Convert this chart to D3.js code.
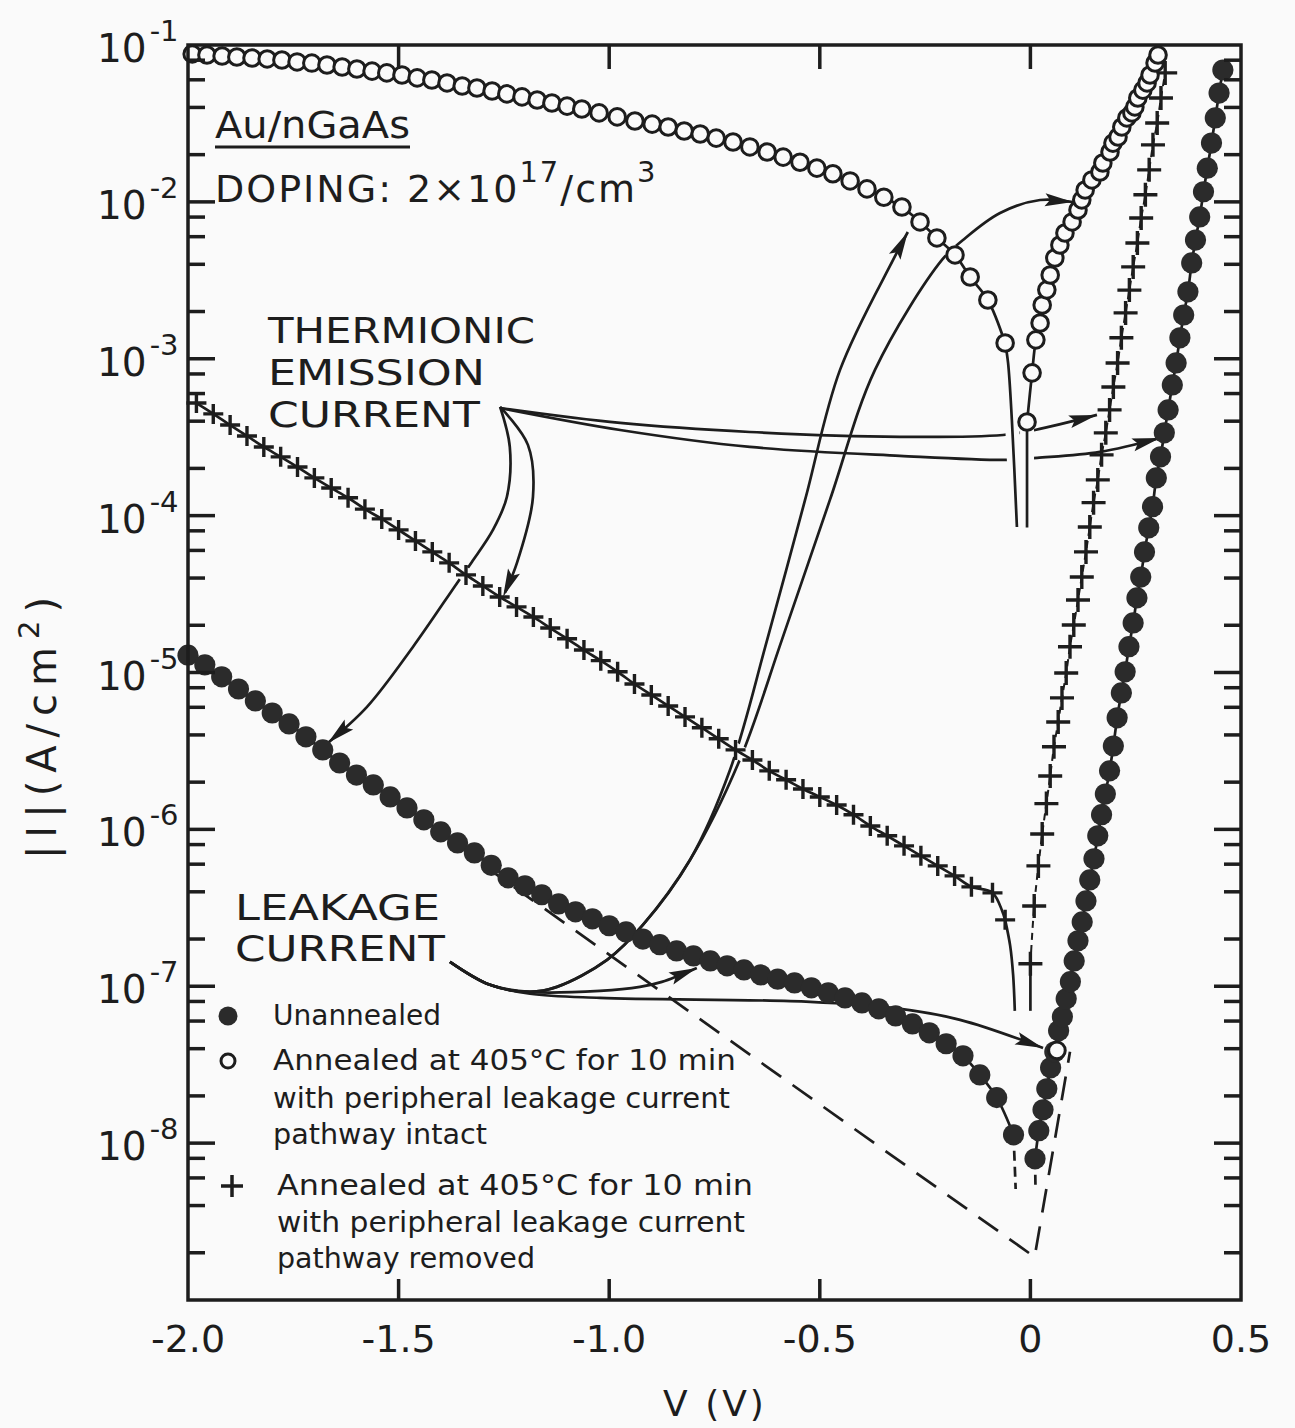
<!DOCTYPE html>
<html>
<head>
<meta charset="utf-8">
<script src="https://cdn.jsdelivr.net/npm/d3@7"></script>
<style>
  body { margin: 0; background: #fafafa; }
  svg text { font-family: "DejaVu Sans", sans-serif; fill: #1d1d1d; }
</style>
</head>
<body>
<svg id="chart" width="1295" height="1428"></svg>
<script>
// ---- data: [V (volts), |I| (A/cm^2)] ----
// unannealed (filled circles)
const filledReverse = [
  [-2.00,1.29e-5],[-1.96,1.12e-5],[-1.92,9.38e-6],[-1.88,7.85e-6],[-1.84,6.59e-6],[-1.80,5.52e-6],
  [-1.76,4.70e-6],[-1.72,3.89e-6],[-1.68,3.21e-6],[-1.64,2.65e-6],[-1.60,2.22e-6],[-1.56,1.92e-6],
  [-1.52,1.61e-6],[-1.48,1.37e-6],[-1.44,1.15e-6],[-1.40,9.64e-7],[-1.36,8.20e-7],[-1.32,7.08e-7],
  [-1.28,5.90e-7],[-1.24,4.91e-7],[-1.20,4.37e-7],[-1.16,3.83e-7],[-1.12,3.35e-7],[-1.08,2.98e-7],
  [-1.04,2.69e-7],[-1.00,2.43e-7],[-0.96,2.22e-7],[-0.92,2.00e-7],[-0.88,1.84e-7],[-0.84,1.68e-7],
  [-0.80,1.56e-7],[-0.76,1.45e-7],[-0.72,1.35e-7],[-0.68,1.27e-7],[-0.64,1.18e-7],[-0.60,1.11e-7],
  [-0.56,1.05e-7],[-0.52,9.77e-8],[-0.48,9.08e-8],[-0.44,8.43e-8],[-0.40,7.83e-8],[-0.36,7.18e-8],
  [-0.32,6.47e-8],[-0.28,5.75e-8],[-0.24,5.05e-8],[-0.20,4.30e-8],[-0.16,3.60e-8],[-0.12,2.72e-8],
  [-0.08,1.95e-8],[-0.04,1.13e-8]
];
const filledForward = [
  [0.011,7.94e-9],[0.020,1.20e-8],[0.030,1.63e-8],[0.039,2.22e-8],[0.048,3.02e-8],[0.058,3.82e-8],
  [0.067,5.20e-8],[0.076,6.38e-8],[0.085,8.32e-8],[0.095,1.07e-7],[0.104,1.45e-7],[0.113,1.95e-7],
  [0.123,2.57e-7],[0.132,3.50e-7],[0.141,4.76e-7],[0.151,6.49e-7],[0.160,9.10e-7],[0.169,1.24e-6],
  [0.178,1.68e-6],[0.188,2.36e-6],[0.197,3.40e-6],[0.206,5.14e-6],[0.216,7.41e-6],[0.225,1.01e-5],
  [0.234,1.46e-5],[0.244,2.07e-5],[0.253,2.99e-5],[0.262,4.06e-5],[0.271,5.87e-5],[0.281,8.36e-5],
  [0.290,1.14e-4],[0.299,1.74e-4],[0.309,2.37e-4],[0.318,3.37e-4],[0.327,4.72e-4],[0.337,6.81e-4],
  [0.346,9.40e-4],[0.355,1.36e-3],[0.364,1.90e-3],[0.374,2.67e-3],[0.383,4.08e-3],[0.392,5.71e-3],
  [0.402,8.02e-3],[0.411,1.16e-2],[0.420,1.64e-2],[0.430,2.37e-2],[0.439,3.43e-2],[0.448,4.94e-2],
  [0.457,6.93e-2]
];
const filledReverseTail = [[-0.04,1.13e-8],[-0.035,5.1e-9]];
const filledForwardTail = [[0.011,7.94e-9],[0.012,5.4e-9]];

// annealed, leakage pathway intact (open circles)
const openReverse = [
  [-1.990,8.77e-2],[-1.955,8.63e-2],[-1.919,8.51e-2],[-1.884,8.39e-2],[-1.848,8.26e-2],[-1.812,8.15e-2],
  [-1.777,8.02e-2],[-1.741,7.80e-2],[-1.706,7.67e-2],[-1.670,7.46e-2],[-1.634,7.24e-2],[-1.599,7.03e-2],
  [-1.563,6.82e-2],[-1.528,6.64e-2],[-1.492,6.44e-2],[-1.456,6.17e-2],[-1.421,5.98e-2],[-1.385,5.73e-2],
  [-1.349,5.48e-2],[-1.314,5.32e-2],[-1.278,5.09e-2],[-1.243,4.88e-2],[-1.207,4.67e-2],[-1.171,4.46e-2],
  [-1.136,4.27e-2],[-1.100,4.08e-2],[-1.065,3.91e-2],[-1.024,3.69e-2],[-0.981,3.48e-2],[-0.939,3.28e-2],
  [-0.898,3.13e-2],[-0.860,3.00e-2],[-0.822,2.83e-2],[-0.784,2.71e-2],[-0.746,2.55e-2],[-0.706,2.41e-2],
  [-0.666,2.24e-2],[-0.625,2.08e-2],[-0.587,1.93e-2],[-0.547,1.79e-2],[-0.507,1.64e-2],[-0.469,1.51e-2],
  [-0.428,1.36e-2],[-0.388,1.21e-2],[-0.348,1.07e-2],[-0.305,9.27e-3],[-0.262,7.45e-3],[-0.222,5.89e-3],
  [-0.179,4.59e-3],[-0.143,3.32e-3],[-0.101,2.37e-3],[-0.060,1.26e-3]
];
const openForward = [
  [-0.008,3.95e-4],[0.004,8.13e-4],[0.013,1.32e-3],[0.023,1.69e-3],[0.028,2.20e-3],[0.039,2.75e-3],
  [0.047,3.42e-3],[0.058,4.39e-3],[0.070,5.31e-3],[0.082,6.33e-3],[0.099,7.45e-3],[0.113,8.87e-3],
  [0.122,1.03e-2],[0.130,1.19e-2],[0.146,1.38e-2],[0.165,1.55e-2],[0.172,1.77e-2],[0.189,2.08e-2],
  [0.196,2.37e-2],[0.208,2.59e-2],[0.217,3.00e-2],[0.229,3.43e-2],[0.241,3.69e-2],[0.248,4.03e-2],
  [0.255,4.59e-2],[0.267,5.16e-2],[0.277,5.73e-2],[0.284,6.44e-2],[0.296,7.68e-2],[0.303,8.63e-2]
];
const openForwardLow = [[0.063,3.9e-8]];
const openReverseTail = [[-0.060,1.26e-3],[-0.053,9.40e-4],[-0.044,4.07e-4],[-0.032,8.47e-5]];
const openForwardTail = [[-0.008,3.95e-4],[-0.008,8.4e-5]];

// annealed, leakage pathway removed (plus signs)
const plusReverse = [
  [-1.98,5.22e-4],[-1.94,4.45e-4],[-1.90,3.78e-4],[-1.86,3.22e-4],[-1.82,2.74e-4],[-1.78,2.37e-4],
  [-1.74,2.04e-4],[-1.70,1.74e-4],[-1.66,1.50e-4],[-1.62,1.30e-4],[-1.58,1.10e-4],[-1.54,9.53e-5],
  [-1.50,8.11e-5],[-1.46,6.90e-5],[-1.42,5.87e-5],[-1.38,5.00e-5],[-1.34,4.19e-5],[-1.30,3.56e-5],
  [-1.26,3.03e-5],[-1.22,2.62e-5],[-1.18,2.26e-5],[-1.14,1.92e-5],[-1.10,1.64e-5],[-1.06,1.39e-5],
  [-1.02,1.19e-5],[-0.98,1.01e-5],[-0.94,8.45e-6],[-0.90,7.19e-6],[-0.86,6.12e-6],[-0.82,5.21e-6],
  [-0.78,4.44e-6],[-0.74,3.78e-6],[-0.70,3.21e-6],[-0.66,2.77e-6],[-0.62,2.36e-6],[-0.58,2.07e-6],
  [-0.54,1.81e-6],[-0.50,1.61e-6],[-0.46,1.43e-6],[-0.42,1.24e-6],[-0.38,1.05e-6],[-0.34,9.10e-7],
  [-0.30,7.85e-7],[-0.26,6.78e-7],[-0.22,5.85e-7],[-0.18,5.05e-7],[-0.14,4.30e-7],[-0.09,3.94e-7],
  [-0.06,2.65e-7]
];
const plusForward = [
  [0.000,1.39e-7],[0.009,3.25e-7],[0.019,5.85e-7],[0.028,9.35e-7],[0.038,1.46e-6],[0.047,2.19e-6],
  [0.056,3.36e-6],[0.066,4.84e-6],[0.075,6.89e-6],[0.085,9.93e-6],[0.094,1.46e-5],[0.103,2.01e-5],
  [0.113,2.90e-5],[0.122,4.06e-5],[0.132,5.87e-5],[0.141,8.47e-5],[0.150,1.21e-4],[0.160,1.69e-4],
  [0.169,2.44e-4],[0.179,3.37e-4],[0.188,4.72e-4],[0.197,6.61e-4],[0.207,9.40e-4],[0.216,1.36e-3],
  [0.226,1.96e-3],[0.235,2.74e-3],[0.244,3.85e-3],[0.254,5.47e-3],[0.263,7.89e-3],[0.273,1.11e-2],
  [0.282,1.60e-2],[0.291,2.31e-2],[0.301,3.18e-2],[0.310,4.59e-2],[0.320,6.64e-2]
];
const plusReverseTail = [[-0.06,2.65e-7],[-0.048,1.81e-7],[-0.041,1.18e-7],[-0.037,6.97e-8]];
const plusForwardTail = [[0.000,1.39e-7],[0.000,6.97e-8]];

// dashed thermionic-emission extrapolation of the unannealed diode
const teExtrapolation = [[-1.30,5.94e-7],[0.010,1.88e-9],[0.094,3.82e-8]];

// annotation pointers, [V, log10|I|]
const arrowsTE = [
  [[-1.259,-3.314],[-0.974,-3.409],[-0.666,-3.467],[-0.310,-3.498],[-0.065,-3.486],[0.011,-3.454],[0.158,-3.358]],
  [[-1.259,-3.314],[-0.974,-3.454],[-0.666,-3.562],[-0.310,-3.619],[-0.056,-3.645],[0.016,-3.632],[0.165,-3.594],[0.308,-3.505]],
  [[-1.259,-3.307],[-1.193,-3.549],[-1.181,-3.881],[-1.219,-4.301],[-1.252,-4.518]],
  [[-1.259,-3.307],[-1.236,-3.562],[-1.243,-3.881],[-1.276,-4.091],[-1.326,-4.295],[-1.361,-4.429],[-1.466,-4.837],[-1.575,-5.219],[-1.668,-5.449]]
];
const arrowsLeak = [
  [[-1.378,-6.844],[-1.283,-6.991],[-1.188,-7.036],[-1.124,-7.004],[-1.005,-6.832],[-0.920,-6.609],[-0.808,-6.194],[-0.713,-5.620],[-0.625,-4.792],[-0.535,-3.900],[-0.452,-3.071],[-0.326,-2.370],[-0.291,-2.192]],
  [[-1.378,-6.844],[-1.283,-6.991],[-1.188,-7.036],[-1.124,-7.004],[-1.005,-6.832],[-0.920,-6.609],[-0.808,-6.194],[-0.690,-5.557],[-0.590,-4.792],[-0.476,-3.900],[-0.369,-3.071],[-0.210,-2.370],[-0.160,-2.243],[-0.072,-2.071],[0.023,-1.988],[0.101,-2.001]],
  [[-1.378,-6.844],[-1.283,-6.991],[-1.188,-7.036],[-1.022,-7.029],[-0.927,-7.004],[-0.875,-6.972],[-0.792,-6.883]],
  [[-1.378,-6.844],[-1.283,-6.991],[-1.188,-7.048],[-1.022,-7.074],[-0.523,-7.099],[-0.326,-7.138],[-0.167,-7.214],[0.030,-7.393]]
];

// axes
const xTicks = [-2.0, -1.5, -1.0, -0.5, 0, 0.5];
const xTickLabels = ["-2.0", "-1.5", "-1.0", "-0.5", "0", "0.5"];
const yDecades = [-1, -2, -3, -4, -5, -6, -7, -8];
const minorMantissas = [2, 4, 6, 8];

const legendRows = [
  { mark: "filled", lines: ["Unannealed"] },
  { mark: "open", lines: ["Annealed at 405°C for 10 min", "with peripheral leakage current", "pathway intact"] },
  { mark: "plus", lines: ["Annealed at 405°C for 10 min", "with peripheral leakage current", "pathway removed"] }
];

// ---- layout ----
const width = 1295, height = 1428;
const plot = { left: 188, right: 1241, top: 45, bottom: 1300 };
const ink = "#1d1d1d";
const paper = "#fafafa";

const x = d3.scaleLinear().domain([-2, 0.5]).range([plot.left, plot.right]);
const y = d3.scaleLog().domain([1e-9, 1e-1]).range([plot.bottom, plot.top]);

const svg = d3.select("#chart");
svg.append("rect").attr("width", width).attr("height", height).attr("fill", paper);

const dataLine = d3.line().x(d => x(d[0])).y(d => y(d[1]));
const smoothLine = d3.line().x(d => x(d[0])).y(d => y(d[1])).curve(d3.curveCatmullRom.alpha(0.5));
const annLine = d3.line().x(d => x(d[0])).y(d => y(Math.pow(10, d[1]))).curve(d3.curveCatmullRom.alpha(0.5));

// annotation pointers go underneath so the data lines break them
const gAnn = svg.append("g");
const annPaths = [];
arrowsTE.concat(arrowsLeak).forEach(pts => {
  const p = gAnn.append("path")
    .attr("d", annLine(pts))
    .attr("fill", "none")
    .attr("stroke", ink)
    .attr("stroke-width", 2.7);
  annPaths.push(p.node());
});

// dashed extrapolation
svg.append("path")
  .attr("d", dataLine(teExtrapolation))
  .attr("fill", "none")
  .attr("stroke", ink)
  .attr("stroke-width", 2.7)
  .attr("stroke-dasharray", "24 14");

// white halos where pointers cross a curve
const haloSeries = [plusReverse, openReverse, openReverseTail, openForwardTail, plusReverseTail, plusForwardTail];
haloSeries.forEach(s => {
  svg.append("path")
    .attr("d", smoothLine(s))
    .attr("fill", "none")
    .attr("stroke", paper)
    .attr("stroke-width", 14);
});

// connecting curves
[filledReverse, filledForward, openReverse, openForward, plusReverse,
 openReverseTail, openForwardTail, plusReverseTail, plusForwardTail].forEach(s => {
  svg.append("path")
    .attr("d", smoothLine(s))
    .attr("fill", "none")
    .attr("stroke", ink)
    .attr("stroke-width", 2.7);
});
svg.append("path")
  .attr("d", smoothLine(plusForward))
  .attr("fill", "none")
  .attr("stroke", ink)
  .attr("stroke-width", 2)
  .attr("stroke-dasharray", "7 5");
[filledReverseTail, filledForwardTail].forEach(s => {
  svg.append("path")
    .attr("d", dataLine(s))
    .attr("fill", "none")
    .attr("stroke", ink)
    .attr("stroke-width", 2.7)
    .attr("stroke-dasharray", "10 6");
});

// arrowheads on top
annPaths.forEach(node => {
  const L = node.getTotalLength();
  const tip = node.getPointAtLength(L);
  const back = node.getPointAtLength(L - 28);
  const dx = tip.x - back.x, dy = tip.y - back.y;
  const n = Math.hypot(dx, dy);
  const ux = dx / n, uy = dy / n;
  const bx = tip.x - ux * 28, by = tip.y - uy * 28;
  const hw = 6.5;
  svg.append("path")
    .attr("d", `M${tip.x},${tip.y}L${bx - uy * hw},${by + ux * hw}L${bx + ux * 5},${by + uy * 5}L${bx + uy * hw},${by - ux * hw}Z`)
    .attr("fill", ink);
});

// markers
const plusPath = a => `M${-a},0H${a}M0,${-a}V${a}`;
function drawPlus(g, data, a) {
  g.selectAll(null).data(data).enter().append("path")
    .attr("d", plusPath(a))
    .attr("transform", d => `translate(${x(d[0])},${y(d[1])})`)
    .attr("stroke", ink)
    .attr("stroke-width", 3.4)
    .attr("fill", "none");
}
function drawOpen(g, data) {
  g.selectAll(null).data(data).enter().append("circle")
    .attr("cx", d => x(d[0])).attr("cy", d => y(d[1])).attr("r", 8.3)
    .attr("fill", paper).attr("stroke", ink).attr("stroke-width", 3);
}
function drawFilled(g, data) {
  g.selectAll(null).data(data).enter().append("circle")
    .attr("cx", d => x(d[0])).attr("cy", d => y(d[1])).attr("r", 10.6)
    .attr("fill", "#2b2b2b");
}
const gMarks = svg.append("g");
drawPlus(gMarks, plusReverse, 10);
drawPlus(gMarks, plusForward, 12);
drawOpen(gMarks, openReverse);
drawOpen(gMarks, openForward);
drawFilled(gMarks, filledReverse);
drawFilled(gMarks, filledForward);
drawOpen(gMarks, openForwardLow);

// frame and ticks
svg.append("rect")
  .attr("x", plot.left).attr("y", plot.top)
  .attr("width", plot.right - plot.left).attr("height", plot.bottom - plot.top)
  .attr("fill", "none").attr("stroke", ink).attr("stroke-width", 3.5);

const yMajor = yDecades.map(e => Math.pow(10, e)).filter(v => v < 0.1);
const yMinor = [];
yDecades.concat([-9]).forEach(e => minorMantissas.forEach(m => {
  const v = m * Math.pow(10, e);
  if (v < 0.1) yMinor.push(v);
}));
const gTicks = svg.append("g").attr("stroke", ink).attr("stroke-width", 3.5);
[[plot.left, 1], [plot.right, -1]].forEach(([x0, dir]) => {
  yMajor.forEach(v => gTicks.append("line").attr("x1", x0).attr("x2", x0 + dir * 27).attr("y1", y(v)).attr("y2", y(v)));
  yMinor.forEach(v => gTicks.append("line").attr("x1", x0).attr("x2", x0 + dir * 17).attr("y1", y(v)).attr("y2", y(v)));
});
xTicks.slice(1, -1).forEach(v => {
  gTicks.append("line").attr("x1", x(v)).attr("x2", x(v)).attr("y1", plot.bottom).attr("y2", plot.bottom - 21);
  gTicks.append("line").attr("x1", x(v)).attr("x2", x(v)).attr("y1", plot.top).attr("y2", plot.top + 24);
});

// tick labels
svg.selectAll(null).data(xTicks).enter().append("text")
  .attr("x", d => x(d)).attr("y", 1352)
  .attr("text-anchor", "middle").attr("font-size", 38)
  .text((d, i) => xTickLabels[i]);

yDecades.forEach(e => {
  const t = svg.append("text").attr("x", 97).attr("y", y(Math.pow(10, e)) + 17).attr("font-size", 39);
  t.append("tspan").text("10");
  t.append("tspan").attr("font-size", 29).attr("dx", 3).attr("dy", -21).text(String(e));
});

// axis titles
svg.append("text")
  .attr("transform", "translate(56,724) rotate(-90)")
  .attr("text-anchor", "middle").attr("font-size", 40)
  .attr("letter-spacing", 8)
  .html('|I|(A/cm<tspan font-size="29" dy="-17">2</tspan><tspan dy="17">)</tspan>');
svg.append("text")
  .attr("x", 715).attr("y", 1416)
  .attr("text-anchor", "middle").attr("font-size", 36)
  .attr("letter-spacing", 3)
  .text("V (V)");

// in-plot labels
svg.append("text").attr("x", 215).attr("y", 138).attr("font-size", 38)
  .attr("textLength", 195).attr("lengthAdjust", "spacingAndGlyphs").text("Au/nGaAs");
svg.append("line").attr("x1", 215).attr("x2", 410).attr("y1", 147).attr("y2", 147)
  .attr("stroke", ink).attr("stroke-width", 3);
const dop = svg.append("text").attr("x", 215).attr("y", 202).attr("font-size", 38).attr("letter-spacing", 2);
dop.append("tspan").text("DOPING: 2×10");
dop.append("tspan").attr("font-size", 29).attr("dy", -20).text("17");
dop.append("tspan").attr("dy", 20).text("/cm");
dop.append("tspan").attr("font-size", 29).attr("dy", -20).text("3");

const bigLabels = [
  ["THERMIONIC", 268, 343, 267], ["EMISSION", 268, 385, 217], ["CURRENT", 268, 427, 212],
  ["LEAKAGE", 235, 920, 205], ["CURRENT", 235, 961, 210]
];
bigLabels.forEach(([s, tx, ty, len]) => {
  svg.append("text").attr("x", tx).attr("y", ty).attr("font-size", 35)
    .attr("textLength", len).attr("lengthAdjust", "spacingAndGlyphs").text(s);
});

// legend
const legendY = [[1025], [1070, 1108, 1144], [1195, 1232, 1268]];
const legendLen = [[168], [463, 457, 214], [476, 468, 258]];
legendRows.forEach((row, i) => {
  const my = legendY[i][0] - 9;
  if (row.mark === "filled") svg.append("circle").attr("cx", 228).attr("cy", my).attr("r", 9.5).attr("fill", "#2b2b2b");
  if (row.mark === "open") svg.append("circle").attr("cx", 228).attr("cy", my).attr("r", 7)
    .attr("fill", "none").attr("stroke", ink).attr("stroke-width", 3);
  if (row.mark === "plus") svg.append("path").attr("d", plusPath(11))
    .attr("transform", `translate(232,${my})`).attr("stroke", ink).attr("stroke-width", 3.5);
  row.lines.forEach((s, j) => {
    svg.append("text").attr("x", i === 2 ? 277 : 273).attr("y", legendY[i][j]).attr("font-size", 28)
      .attr("textLength", legendLen[i][j]).attr("lengthAdjust", "spacingAndGlyphs").text(s);
  });
});
</script>
</body>
</html>
